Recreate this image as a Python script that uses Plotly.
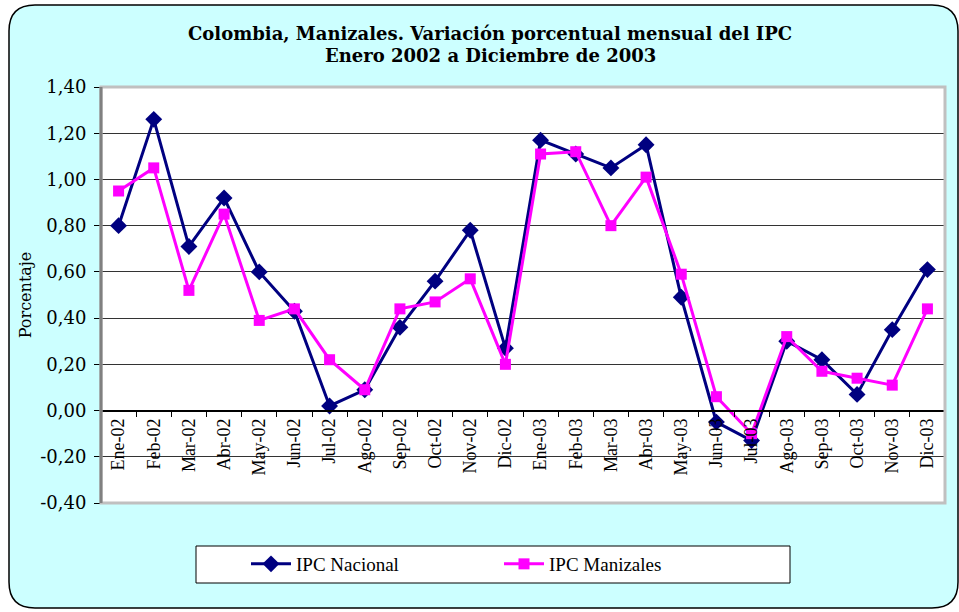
"""Colombia, Manizales - monthly CPI variation chart."""

import plotly.graph_objects as go

meses = [
    "Ene-02", "Feb-02", "Mar-02", "Abr-02", "May-02", "Jun-02",
    "Jul-02", "Ago-02", "Sep-02", "Oct-02", "Nov-02", "Dic-02",
    "Ene-03", "Feb-03", "Mar-03", "Abr-03", "May-03", "Jun-03",
    "Jul-03", "Ago-03", "Sep-03", "Oct-03", "Nov-03", "Dic-03",
]
ipc_nacional = [
    0.80, 1.26, 0.71, 0.92, 0.60, 0.43, 0.02, 0.09, 0.36, 0.56, 0.78, 0.27,
    1.17, 1.11, 1.05, 1.15, 0.49, -0.05, -0.13, 0.30, 0.22, 0.07, 0.35, 0.61,
]
ipc_manizales = [
    0.95, 1.05, 0.52, 0.85, 0.39, 0.44, 0.22, 0.09, 0.44, 0.47, 0.57, 0.20,
    1.11, 1.12, 0.80, 1.01, 0.59, 0.06, -0.10, 0.32, 0.17, 0.14, 0.11, 0.44,
]
y_ticks = [-0.40, -0.20, 0.00, 0.20, 0.40, 0.60, 0.80, 1.00, 1.20, 1.40]
y_labels = [f"{v:.2f}".replace(".", ",") for v in y_ticks]
y_min, y_max = y_ticks[0], y_ticks[-1]
titulo = [
    "Colombia, Manizales. Variación porcentual mensual del IPC",
    "Enero 2002 a Diciembre de 2003",
]

W, H = 959, 612
ML, MR, MT, MB = 101, 14, 87, 109
PW, PH = W - ML - MR, H - MT - MB


def fx(px):
    return (px - ML) / PW


def fy(py):
    return 1 - (py - MT) / PH


def rounded_rect(x0, y0, x1, y1, r):
    # path in paper coords, corner radius in pixels
    pts = [
        f"M {fx(x0 + r)},{fy(y0)}",
        f"L {fx(x1 - r)},{fy(y0)}",
        f"Q {fx(x1)},{fy(y0)} {fx(x1)},{fy(y0 + r)}",
        f"L {fx(x1)},{fy(y1 - r)}",
        f"Q {fx(x1)},{fy(y1)} {fx(x1 - r)},{fy(y1)}",
        f"L {fx(x0 + r)},{fy(y1)}",
        f"Q {fx(x0)},{fy(y1)} {fx(x0)},{fy(y1 - r)}",
        f"L {fx(x0)},{fy(y0 + r)}",
        f"Q {fx(x0)},{fy(y0)} {fx(x0 + r)},{fy(y0)} Z",
    ]
    return " ".join(pts)


serif = "Liberation Serif"
bookman = "DejaVu Serif"

fig = go.Figure()
fig.add_trace(
    go.Scatter(
        x=meses,
        y=ipc_nacional,
        mode="lines+markers",
        name="IPC Nacional",
        line=dict(color="#000080", width=3),
        marker=dict(symbol="diamond", size=13, color="#000080"),
    )
)
fig.add_trace(
    go.Scatter(
        x=meses,
        y=ipc_manizales,
        mode="lines+markers",
        name="IPC Manizales",
        line=dict(color="#FF00FF", width=3),
        marker=dict(symbol="square", size=11, color="#FF00FF"),
    )
)

shapes = [
    # outer rounded frame
    dict(
        type="path",
        xref="paper",
        yref="paper",
        path=rounded_rect(9, 5, 958, 608, 26),
        fillcolor="#CCFFFF",
        line=dict(color="black", width=1.5),
        layer="below",
    ),
    # plot area fill
    dict(
        type="rect", xref="paper", yref="paper", x0=0, x1=1, y0=0, y1=1,
        fillcolor="white", line=dict(width=0), layer="below",
    ),
    # plot area border
    dict(
        type="rect", xref="paper", yref="paper", x0=0, x1=1, y0=0, y1=1,
        line=dict(color="#C0C0C0", width=3), layer="above",
    ),
    dict(
        type="line", xref="paper", yref="paper", x0=0, x1=0, y0=0, y1=1,
        line=dict(color="#808080", width=3), layer="above",
    ),
    # legend box
    dict(
        type="rect", xref="paper", yref="paper",
        x0=fx(196), x1=fx(790), y0=fy(583), y1=fy(546),
        fillcolor="white", line=dict(color="black", width=1), layer="below",
    ),
]

# title as two centred lines
annotations = [
    dict(
        text=f"<b>{linea}</b>",
        xref="paper",
        yref="paper",
        x=fx(490),
        y=fy(yc),
        xanchor="center",
        yanchor="middle",
        showarrow=False,
        font=dict(family=bookman, size=18, color="black"),
    )
    for linea, yc in zip(titulo, [33, 56])
]

fig.update_layout(
    width=W,
    height=H,
    margin=dict(l=ML, r=MR, t=MT, b=MB, autoexpand=False),
    paper_bgcolor="white",
    plot_bgcolor="rgba(0,0,0,0)",
    shapes=shapes,
    annotations=annotations,
    xaxis=dict(
        type="category",
        range=[-0.5, len(meses) - 0.5],
        anchor="free",
        position=(0 - y_min) / (y_max - y_min),
        showline=True,
        linecolor="black",
        linewidth=1.5,
        ticks="outside",
        tickson="boundaries",
        ticklen=6,
        tickcolor="black",
        tickangle=-90,
        showgrid=False,
        tickfont=dict(family=serif, size=18, color="black"),
    ),
    yaxis=dict(
        range=[y_min, y_max],
        tickvals=y_ticks,
        ticktext=y_labels,
        showgrid=True,
        gridcolor="#333333",
        gridwidth=1,
        zeroline=False,
        showline=True,
        linecolor="black",
        linewidth=1,
        ticks="outside",
        ticklen=6,
        tickcolor="black",
        ticklabelstandoff=4,
        tickfont=dict(family=bookman, size=18, color="black"),
        title=dict(
            text="Porcentaje",
            font=dict(family=bookman, size=16, color="black"),
            standoff=4,
        ),
    ),
    showlegend=True,
    legend=dict(
        orientation="h",
        x=fx(246),
        y=fy(564),
        xanchor="left",
        yanchor="middle",
        bgcolor="rgba(0,0,0,0)",
        entrywidth=198,
        font=dict(family=serif, size=19, color="black"),
        itemwidth=40,
    ),
)

fig.write_html(
    "out.html",
    config={"displayModeBar": False},
    post_script="document.body.style.margin='0';",
)
